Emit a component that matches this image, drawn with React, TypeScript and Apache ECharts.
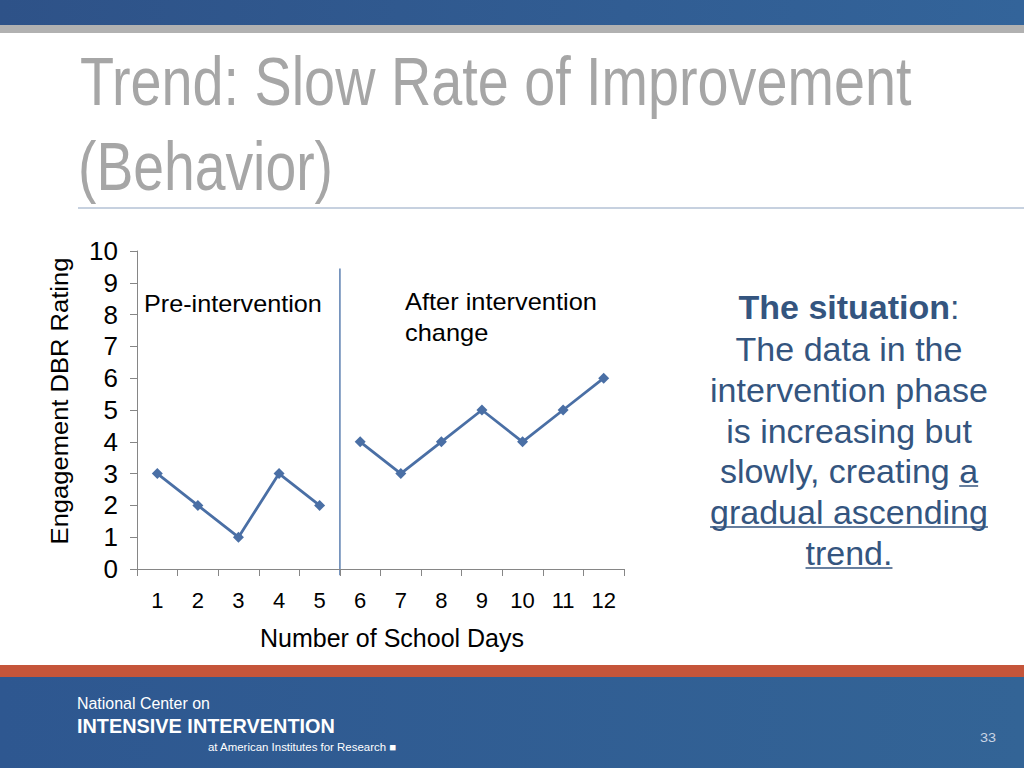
import React, { useEffect, useRef } from "react";
import * as echarts from "echarts";

const days = ["1", "2", "3", "4", "5", "6", "7", "8", "9", "10", "11", "12"];
const preIntervention = [3, 2, 1, 3, 2, null, null, null, null, null, null, null];
const afterIntervention = [null, null, null, null, null, 4, 3, 4, 5, 4, 5, 6];
const yTicks = { min: 0, max: 10, interval: 1 };
const phaseBoundary = 5.5;
const phaseLineRange = [9.45, -0.2];

const SANS = '"Liberation Sans", Arial, sans-serif';
const BLUE = "#4a6fa5";
const TEXT_BLUE = "#34557f";

function measure(text: string, font: string) {
  const c = document.createElement("canvas").getContext("2d")!;
  c.font = font;
  return c.measureText(text).width;
}

function fitted(text: string, x: number, y: number, size: number, width: number, fill: string, bold = false, extra: any = {}) {
  const font = `${bold ? "bold " : ""}${size}px ${SANS}`;
  const w = measure(text, font);
  return {
    type: "text",
    x,
    y,
    scaleX: width / w,
    ...extra,
    style: { text, font, fill, textVerticalAlign: "middle", ...(extra.style || {}) },
  };
}

export default function App() {
  const ref = useRef<HTMLDivElement>(null);
  useEffect(() => {
    document.body.style.margin = "0";
    const chart = echarts.init(ref.current!, null, { renderer: "svg" });

    const cx = 849;
    const fs = 34;
    const font = `${fs}px ${SANS}`;
    const lines = [
      "The data in the",
      "intervention phase",
      "is increasing but",
      "slowly, creating a",
      "gradual ascending",
      "trend.",
    ];
    const lineYs = [349, 390, 431, 471, 512, 553];
    const under: any[] = [];
    const wLine4 = measure(lines[3], font);
    const wA = measure("a", font);
    under.push([cx + wLine4 / 2 - wA, cx + wLine4 / 2, lineYs[3] + 15]);
    const w5 = measure(lines[4], font);
    under.push([cx - w5 / 2, cx + w5 / 2, lineYs[4] + 15]);
    const w6 = measure("trend.", font);
    under.push([cx - w6 / 2, cx + w6 / 2, lineYs[5] + 15]);

    const afterScale = 192 / measure("After intervention", `23px ${SANS}`);

    const graphic: any[] = [
      { type: "rect", shape: { x: 0, y: 0, width: 1024, height: 25 }, style: { fill: new echarts.graphic.LinearGradient(0, 0, 1, 0, [{ offset: 0, color: "#2e5288" }, { offset: 1, color: "#33649a" }]) }, z: -1 },
      { type: "rect", shape: { x: 0, y: 25, width: 1024, height: 8 }, style: { fill: "#b1b1b1" }, z: -1 },
      fitted("Trend: Slow Rate of Improvement", 80, 81, 68, 832, "#a6a6a6"),
      fitted("(Behavior)", 78, 166, 68, 255, "#a6a6a6"),
      { type: "line", shape: { x1: 78, y1: 208, x2: 1024, y2: 208 }, style: { stroke: "#8ea3c0", lineWidth: 1 } },
      fitted("Engagement DBR Rating", 60, 401, 23, 287, "#000", false, { rotation: Math.PI / 2, style: { textAlign: "center" } }),
      fitted("Pre-intervention", 144, 304, 23, 178, "#000"),
      { type: "text", x: 405, y: 302, scaleX: afterScale, style: { text: "After intervention", font: `23px ${SANS}`, fill: "#000", textVerticalAlign: "middle" } },
      { type: "text", x: 405, y: 333, scaleX: afterScale, style: { text: "change", font: `23px ${SANS}`, fill: "#000", textVerticalAlign: "middle" } },
      {
        type: "text", x: cx, y: 307,
        style: {
          text: "{b|The situation}{n|:}", textAlign: "center", textVerticalAlign: "middle",
          rich: {
            b: { font: `bold ${fs}px ${SANS}`, fill: TEXT_BLUE },
            n: { font: `${fs}px ${SANS}`, fill: TEXT_BLUE },
          },
        },
      },
      ...lines.map((t, i) => ({ type: "text", x: cx, y: lineYs[i], style: { text: t, font, fill: TEXT_BLUE, textAlign: "center", textVerticalAlign: "middle" } })),
      ...under.map(([x1, x2, y]) => ({ type: "line", shape: { x1, y1: y, x2, y2: y }, style: { stroke: TEXT_BLUE, lineWidth: 1.5 } })),
      { type: "rect", shape: { x: 0, y: 665, width: 1024, height: 12 }, style: { fill: "#c5553a" }, z: -1 },
      { type: "rect", shape: { x: 0, y: 677, width: 1024, height: 91 }, style: { fill: new echarts.graphic.LinearGradient(0, 0, 1, 0, [{ offset: 0, color: "#2e5790" }, { offset: 1, color: "#336496" }]) }, z: -1 },
      fitted("National Center on", 77, 703, 17, 133, "#ffffff"),
      fitted("INTENSIVE INTERVENTION", 77, 725, 21, 258, "#ffffff", true),
      fitted("at American Institutes for Research \u25A0", 208, 747, 11, 189, "#ffffff"),
      fitted("33", 980, 738, 13, 16, "#c8d4e4"),
    ];

    const seriesBase = {
      type: "line",
      symbol: "diamond",
      symbolSize: 11,
      lineStyle: { color: BLUE, width: 2.8 },
      itemStyle: { color: BLUE },
      connectNulls: false,
    };

    const option: any = {
      animation: false,
      backgroundColor: "#ffffff",
      grid: { left: 137, right: 400, top: 251, bottom: 199, containLabel: false },
      xAxis: [
        {
          type: "category",
          data: days,
          boundaryGap: true,
          name: "Number of School Days",
          nameLocation: "middle",
          nameGap: 56,
          nameTextStyle: { fontFamily: SANS, fontSize: 25, color: "#000", padding: [0, 0, 0, 23] },
          axisLine: { lineStyle: { color: "#868686", width: 1 } },
          axisTick: { show: true, interval: 0, length: 7, lineStyle: { color: "#868686" } },
          axisLabel: { interval: 0, fontFamily: SANS, fontSize: 22, color: "#000", margin: 20 },
          splitLine: { show: false },
        },
        { type: "value", min: 0.5, max: 12.5, show: false },
      ],
      yAxis: {
        type: "value",
        min: yTicks.min,
        max: yTicks.max,
        interval: yTicks.interval,
        axisLine: { show: true, lineStyle: { color: "#868686", width: 1 } },
        axisTick: { show: true, length: 7, lineStyle: { color: "#868686" } },
        axisLabel: { fontFamily: SANS, fontSize: 26, color: "#000", margin: 19 },
        splitLine: { show: false },
      },
      series: [
        { ...seriesBase, name: "Pre-intervention", data: preIntervention },
        { ...seriesBase, name: "After intervention", data: afterIntervention },
      ],
      graphic,
    };
    chart.setOption(option);

    const px = chart.convertToPixel({ xAxisIndex: 1 }, phaseBoundary) as number;
    const py1 = chart.convertToPixel({ yAxisIndex: 0 }, phaseLineRange[0]) as number;
    const py2 = chart.convertToPixel({ yAxisIndex: 0 }, phaseLineRange[1]) as number;
    chart.setOption({
      graphic: [
        ...graphic,
        { type: "line", shape: { x1: px, y1: py1, x2: px, y2: py2 }, style: { stroke: "#5b7fb0", lineWidth: 1.5 } },
      ],
    });
    return () => chart.dispose();
  }, []);
  return <div ref={ref} style={{ width: 1024, height: 768 }} />;
}
